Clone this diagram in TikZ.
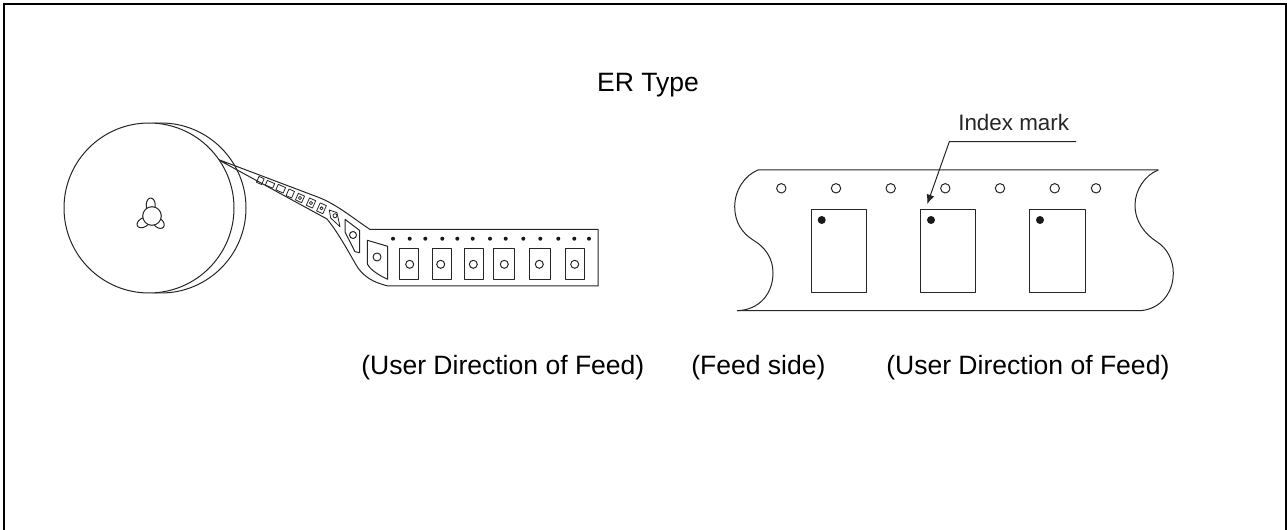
\documentclass[tikz,border=0pt]{standalone}
\usepackage{fontspec}
\setmainfont{Liberation Sans}
\usetikzlibrary{arrows.meta}
\tikzset{
  px/.style={x=0.75pt,y=-0.75pt},
  ln/.style={draw=black!85,line width=0.75pt,line join=round},
  lnthin/.style={draw=black!85,line width=0.6pt,line join=round},
  lbl/.style={font=\fontsize{19.9pt}{22pt}\selectfont,inner sep=0pt,text=black},
  smalllbl/.style={font=\fontsize{16.8pt}{19pt}\selectfont,inner sep=0pt,text=black!85},
  dotm/.style={fill=black!90},
}
\begin{document}
\begin{tikzpicture}[px]
\useasboundingbox (0,0) rectangle (1287,530);
\draw[black,line width=1.5pt] (4,530) -- (4,4) -- (1286,4) -- (1286,530);
% reel
\draw[ln] (161,208) circle[radius=85];
% tape
\draw[ln] (217,159) -- (315,196) .. controls (335,203) and (350,216) .. (370,229.5) -- (598,229.5) -- (598,286) -- (388,286)
 .. controls (372,282) and (365,277) .. (358,268) .. controls (350,255) and (340,235) .. (327,219) -- cycle;
\draw[ln,fill=white] (149,208) circle[radius=85];
\draw[ln] (150.7,205) ellipse[x radius=4.5,y radius=7];
\draw[ln,rotate around={-60:(143.5,222.5)}] (143.5,222.5) ellipse[x radius=4.5,y radius=7];
\draw[ln,rotate around={50:(158.5,223)}] (158.5,223) ellipse[x radius=4.5,y radius=6.5];
\draw[ln,fill=white] (152,216) circle[radius=9.3];
% pockets on the narrow part
\foreach \cx/\cy/\w/\h/\r in {260.3/180.5/2.8/3.2/0,270/184.3/4/2.5/0,280.7/188.7/4/3/0,290.3/193.5/3/3.6/0,300/198/3.4/3.6/1,311/203/3.4/4/1,321.5/208.3/3.4/4.4/1}{
  \draw[lnthin,rotate around={-24:(\cx,\cy)}] (\cx-\w,\cy-\h) rectangle (\cx+\w,\cy+\h);
  \ifnum\r=1 \draw[lnthin] (\cx,\cy) circle[radius=1.6]; \fi
}
\draw[lnthin] (329.3,210) -- (337,212.7) -- (340,226.7) -- (330.7,218) -- cycle;
\draw[lnthin] (335,215.7) circle[radius=2];
\draw[ln] (345,219.3) -- (359.7,230.5) -- (359.7,252.7) -- (355,251.7) -- (345,232) -- cycle;
\draw[ln] (353,235) circle[radius=3.5];
\draw[ln] (367.3,240.3) -- (387.7,246.3) -- (387.7,279.3) .. controls (376,274) and (369,268) .. (367.3,264) -- cycle;
\draw[ln] (377,257) circle[radius=4];
\foreach \x in {393,409.7,425.3,442.3,457.3,472.7,490,505.7,523.3,540.3,558.3,574.3,589}
  \fill[dotm] (\x,238.7) circle[radius=2];
\foreach \a/\b/\c in {399.3/418.7/409.7,432/451/440.7,464.3/483.7/473.3,493.3/514.3/504.3,529.3/550/539.3,565.3/584.3/574.7}{
  \draw[ln] (\a,248.3) rectangle (\b,279.3);
  \draw[ln] (\c,264.3) circle[radius=4];
}
% right strip
\draw[ln] (737,310.7) .. controls (760,310) and (773,293) .. (773,273) .. controls (773,258) and (765,247) .. (753,240)
 .. controls (742,233) and (734.7,222) .. (734.7,206.7) .. controls (734.7,190) and (745,175) .. (758,170) -- (1158.3,170);
\draw[ln] (1158.3,170) .. controls (1145,175) and (1135,190) .. (1135,205) .. controls (1135,222) and (1145,234) .. (1156.7,241.7)
 .. controls (1167,248) and (1173.3,260) .. (1173.3,273) .. controls (1173.3,295) and (1158,310.7) .. (1138,310.7) -- (737,310.7);
\foreach \x in {781.3,836,890.7,945.3,1000,1054.7,1096}
  \draw[ln] (\x,188.3) circle[radius=4.7];
\foreach \a/\b in {811/866.3,920.3/975.7,1029.3/1085}{
  \draw[ln] (\a,210) rectangle (\b,292.3);
  \fill[dotm] (\a+10.7,220) circle[radius=4];
}
% index mark
\coordinate (idxend) at (1076,141.7);
\coordinate (idxbend) at (949.3,141.7);
\coordinate (idxtip) at (927.3,204);
\draw[ln,-{Latex[length=7pt,width=6pt]}] (idxend) -- (idxbend) -- (idxtip);
\node[smalllbl,anchor=base west] (idx) at (958,130.7) {Index mark};
\node[lbl,anchor=base] (title) at (648,91.5) {ER Type};
\node[lbl,anchor=base west] (a) at (361,374) {(User Direction of Feed)};
\node[lbl,anchor=base west] (b) at (691,374) {(Feed side)};
\node[lbl,anchor=base west] (c) at (886,374) {(User Direction of Feed)};
\end{tikzpicture}
\end{document}
